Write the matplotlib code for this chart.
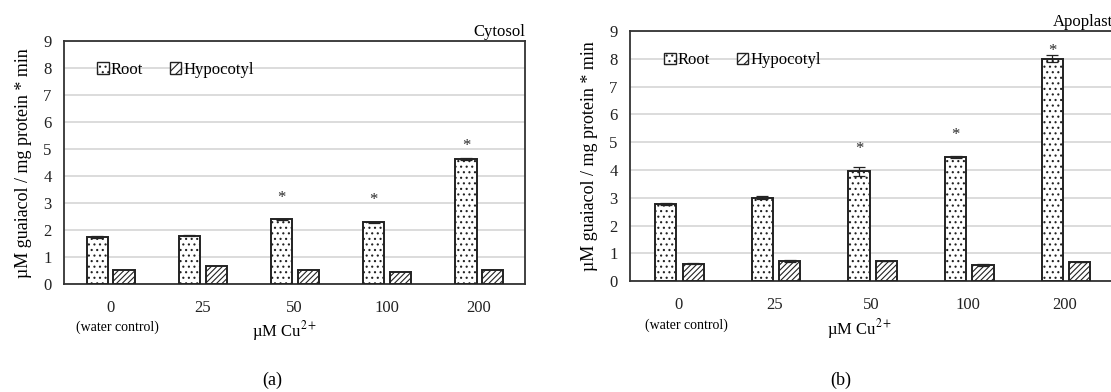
import matplotlib

matplotlib.use("Agg")

import matplotlib.pyplot as plt
import numpy as np
from matplotlib.patches import Patch

plt.rcParams["font.family"] = ["Liberation Serif", "DejaVu Serif"]
plt.rcParams["mathtext.fontset"] = "stix"
plt.rcParams["hatch.linewidth"] = 0.8

categories = ["0", "25", "50", "100", "200"]

# Cytosol (a)
cyt_root = [1.75, 1.80, 2.40, 2.29, 4.65]
cyt_root_err = [0.02, 0.02, 0.03, 0.03, 0.04]
cyt_hyp = [0.54, 0.66, 0.54, 0.45, 0.54]
cyt_stars = [None, None, 3.2, 3.1, 5.1]

# Apoplast (b)
apo_root = [2.78, 3.00, 3.95, 4.47, 8.00]
apo_root_err = [0.04, 0.05, 0.17, 0.03, 0.12]
apo_hyp = [0.64, 0.73, 0.73, 0.59, 0.69]
apo_hyp_err = [0.01, 0.04, 0.01, 0.03, 0.01]
apo_stars = [None, None, 4.77, 5.25, 8.28]

EDGE = "#222222"
GRID = "#D9D9D9"


def draw_panel(ax, root, root_err, hyp, hyp_err, stars, title, offs, width):
    x = np.arange(len(categories))
    ax.bar(x + offs[0], root, width, color="white", edgecolor=EDGE, linewidth=1.4,
           hatch="...", yerr=root_err, capsize=4,
           error_kw=dict(ecolor=EDGE, elinewidth=0.9, capthick=0.9), zorder=3)
    ax.bar(x + offs[1], hyp, width, color="white", edgecolor=EDGE, linewidth=1.4,
           hatch="//////", yerr=hyp_err, capsize=4,
           error_kw=dict(ecolor=EDGE, elinewidth=0.9, capthick=0.9), zorder=3)
    for xi, s in zip(x, stars):
        if s is not None:
            ax.text(xi + offs[0], s, "*", ha="center", va="center", fontsize=12,
                    color="#2a2a2a")
    ax.set_xlim(-0.5, len(categories) - 0.5)
    ax.set_ylim(0, 9)
    ax.set_yticks(range(10))
    ax.set_xticks(x)
    ax.set_xticklabels(categories)
    ax.tick_params(axis="both", length=0, labelsize=12, colors="#222222")
    ax.tick_params(axis="x", pad=11)
    ax.tick_params(axis="y", pad=9)
    ax.grid(axis="y", color=GRID, linewidth=1.3, zorder=0)
    ax.set_axisbelow(True)
    for sp in ax.spines.values():
        sp.set_color("#333333")
        sp.set_linewidth(1.3)
    ax.set_ylabel("\u00b5M guaiacol / mg protein * min", fontsize=13, labelpad=8)
    ax.text(1.0, 1.005, title, transform=ax.transAxes, ha="right", va="bottom",
            fontsize=12)
    handles = [
        Patch(facecolor="white", edgecolor=EDGE, hatch="...", label="Root"),
        Patch(facecolor="white", edgecolor=EDGE, hatch="////", label="Hypocotyl"),
    ]
    ax.legend(handles=handles, ncol=2, loc="upper left", bbox_to_anchor=(0.04, 0.975),
              frameon=False, fontsize=12, handlelength=0.7, handleheight=0.7,
              handletextpad=0.1, columnspacing=1.6)


fig = plt.figure(figsize=(11.11, 3.92), dpi=100)
W, H = 1111.0, 392.0

ax_a = fig.add_axes([64 / W, (H - 284.3) / H, 461 / W, 243.3 / H])
draw_panel(ax_a, cyt_root, cyt_root_err, cyt_hyp, None, cyt_stars, "Cytosol",
           (-0.14, 0.15), 0.23)

ax_b = fig.add_axes([630 / W, (H - 281.3) / H, 483 / W, 250.3 / H])
draw_panel(ax_b, apo_root, apo_root_err, apo_hyp, apo_hyp_err, apo_stars, "Apoplast",
           (-0.13, 0.155), 0.22)

fig.text(117 / W, 1 - 327 / H, "(water control)", ha="center", va="center", fontsize=10)
fig.text(285 / W, 1 - 331 / H, "\u00b5M Cu$^{2+}$", ha="center", va="center", fontsize=12)
fig.text(686 / W, 1 - 325 / H, "(water control)", ha="center", va="center", fontsize=10)
fig.text(860 / W, 1 - 329 / H, "\u00b5M Cu$^{2+}$", ha="center", va="center", fontsize=12)
fig.text(272 / W, 1 - 380 / H, "(a)", ha="center", va="center", fontsize=13)
fig.text(841 / W, 1 - 380 / H, "(b)", ha="center", va="center", fontsize=13)

fig.savefig("out.png", dpi=100)
